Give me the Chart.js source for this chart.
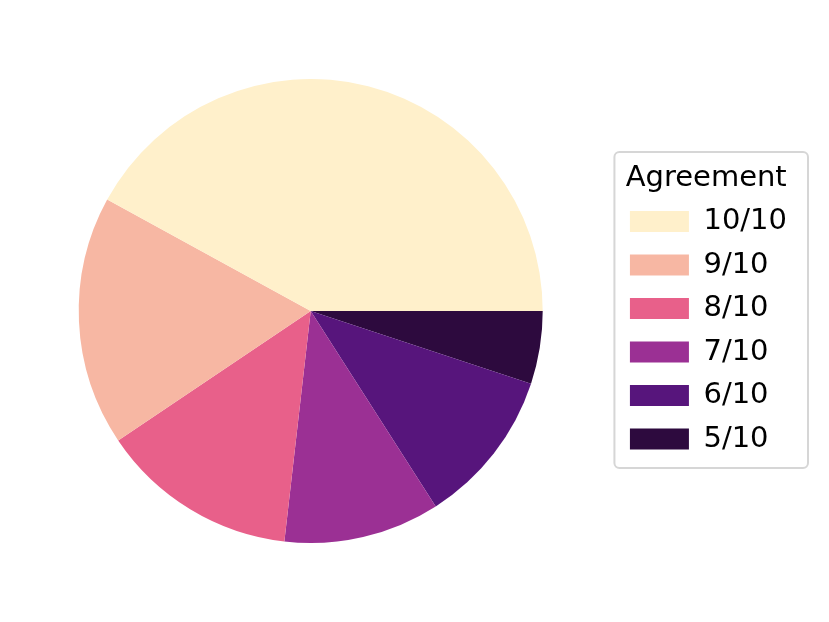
<!DOCTYPE html>
<html>
<head>
    <title>Agreement</title>
    <script src="https://cdn.jsdelivr.net/npm/chart.js"></script>
    <style>
        body { margin: 0; background: #ffffff; }
        .wrap { width: 829px; height: 622px; position: relative; }
    </style>
</head>
<body>
    <div class="wrap">
        <canvas id="pieChart"></canvas>
    </div>

    <script>
        // Data
        const categories = ['10/10', '9/10', '8/10', '7/10', '6/10', '5/10'];
        const counts = [58, 24, 19, 15, 15, 7];
        const colors = ['#fff0cb', '#f7b7a3', '#e8608a', '#9b3094', '#57157c', '#2d0a3e'];

        // Chart.js goes clockwise, matplotlib counterclockwise: feed in reverse, start at 3 o'clock
        const labelsRev = categories.slice().reverse();
        const countsRev = counts.slice().reverse();
        const colorsRev = colors.slice().reverse();

        // Rounded grey frame round the legend, like matplotlib's
        const legendFrame = {
            id: 'legendFrame',
            afterDraw(chart) {
                const lg = chart.legend;
                if (!lg || !lg.legendHitBoxes || !lg.legendHitBoxes.length) return;
                const hb = lg.legendHitBoxes;
                const ctx = chart.ctx;
                const x = lg.left - 1;
                const y = hb[0].top - 55;
                const w = lg.right + 11 - x;
                const h = hb[hb.length - 1].top + 43.5 - y;
                ctx.save();
                ctx.strokeStyle = '#d6d6d6';
                ctx.lineWidth = 2;
                ctx.beginPath();
                ctx.roundRect(x, y, w, h, 5);
                ctx.stroke();
                ctx.restore();
            }
        };

        new Chart(document.getElementById('pieChart').getContext('2d'), {
            type: 'pie',
            data: {
                labels: labelsRev,
                datasets: [{ data: countsRev, backgroundColor: colorsRev, borderWidth: 0 }]
            },
            options: {
                responsive: true,
                maintainAspectRatio: false,
                animation: false,
                rotation: 90,
                layout: { padding: { top: 79, bottom: 79, left: 6, right: 32 } },
                plugins: {
                    tooltip: { enabled: false },
                    legend: {
                        position: 'right',
                        reverse: true,
                        title: {
                            display: true,
                            text: 'Agreement',
                            position: 'center',
                            color: '#000000',
                            font: { family: 'DejaVu Sans', size: 29, lineHeight: 1 },
                            padding: { top: 9.5, bottom: 0 }
                        },
                        labels: {
                            boxWidth: 59,
                            boxHeight: 21,
                            padding: 14.5,
                            color: '#000000',
                            font: { family: 'DejaVu Sans', size: 29 }
                        }
                    }
                }
            },
            plugins: [legendFrame]
        });
    </script>
</body>
</html>
